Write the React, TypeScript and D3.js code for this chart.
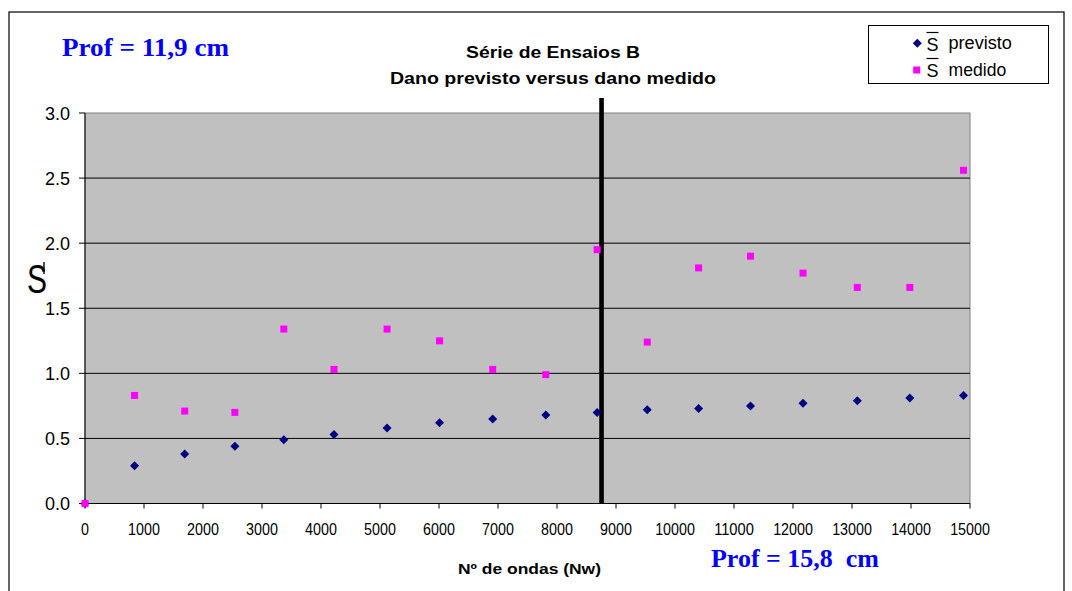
import React from "react";
import * as d3 from "d3";

const waves = [0, 840, 1690, 2540, 3370, 4220, 5120, 6010, 6910, 7810, 8680, 9530, 10400, 11280, 12170, 13090, 13980, 14890];
const sPrevisto = [0, 0.29, 0.38, 0.44, 0.49, 0.53, 0.58, 0.62, 0.65, 0.68, 0.70, 0.72, 0.73, 0.75, 0.77, 0.79, 0.81, 0.83];
const sMedido = [0, 0.83, 0.71, 0.70, 1.34, 1.03, 1.34, 1.25, 1.03, 0.99, 1.95, 1.24, 1.81, 1.90, 1.77, 1.66, 1.66, 2.56];
const xTicks = [0, 1000, 2000, 3000, 4000, 5000, 6000, 7000, 8000, 9000, 10000, 11000, 12000, 13000, 14000, 15000];
const yTicks = [0, 0.5, 1.0, 1.5, 2.0, 2.5, 3.0];
const divider = 8755;
const titleLines = ["Série de Ensaios B", "Dano previsto versus dano medido"];
const xTitle = "Nº de ondas (Nw)";
const profTop = "Prof = 11,9 cm";
const profBottom = "Prof = 15,8  cm";
const legendLabels = ["previsto", "medido"];

export default function App() {
  const x = d3.scaleLinear().domain([0, 15000]).range([85, 970]);
  const y = d3.scaleLinear().domain([0, 3]).range([503.5, 113]);
  const diamond = "M0,-4.5L4.5,0L0,4.5L-4.5,0Z";
  const [x0, x1] = x.range();
  const [yb, yt] = y.range();
  const arial = "Arial, 'Liberation Sans', sans-serif";
  const times = "'Times New Roman', 'Liberation Serif', serif";
  return (
    <svg width={1072} height={591} style={{ position: "absolute", left: 0, top: 0 }} fontFamily={arial}>
      <rect x={0} y={0} width={1072} height={591} fill="#fff" />
      <rect x={9} y={12} width={1055} height={620} fill="#fff" stroke="#000" strokeWidth={1.2} />
      {/* plot area */}
      <rect x={x0} y={yt} width={x1 - x0} height={yb - yt} fill="#C0C0C0" stroke="#808080" strokeWidth={1} />
      {yTicks.filter((t) => t > 0 && t < 3).map((t) => (
        <line key={t} x1={x0} x2={x1} y1={y(t)} y2={y(t)} stroke="#000" strokeWidth={1} />
      ))}
      <line x1={x0} x2={x0} y1={yt} y2={yb} stroke="#000" strokeWidth={1} />
      <line x1={x0} x2={x1} y1={yb} y2={yb} stroke="#000" strokeWidth={1} />
      {yTicks.map((t) => (
        <g key={t}>
          <line x1={x0 - 6} x2={x0} y1={y(t)} y2={y(t)} stroke="#000" />
          <text x={70} y={y(t) + 6.5} textAnchor="end" fontSize={18}>{t.toFixed(1)}</text>
        </g>
      ))}
      {xTicks.map((t) => {
        const label = String(t);
        return (
          <g key={t}>
            <line x1={x(t)} x2={x(t)} y1={yb} y2={yb + 5} stroke="#000" />
            <text x={x(t) - (label.length * 7.95) / 2} y={535} fontSize={16} textLength={label.length * 7.95} lengthAdjust="spacingAndGlyphs">{label}</text>
          </g>
        );
      })}
      {/* divider */}
      <line x1={x(divider)} x2={x(divider)} y1={98} y2={yb} stroke="#000" strokeWidth={4.6} />
      {/* series */}
      {waves.map((w, i) => (
        <path key={"p" + i} d={diamond} transform={`translate(${x(w)},${y(sPrevisto[i])})`} fill="#000080" />
      ))}
      {waves.map((w, i) => (
        <rect key={"m" + i} x={x(w) - 3.5} y={y(sMedido[i]) - 3.5} width={7} height={7} fill="#FF00FF" />
      ))}
      {/* titles */}
      <text x={466} y={58} fontSize={16} fontWeight="bold" textLength={174} lengthAdjust="spacingAndGlyphs">{titleLines[0]}</text>
      <text x={390} y={83.5} fontSize={16} fontWeight="bold" textLength={326} lengthAdjust="spacingAndGlyphs">{titleLines[1]}</text>
      <text x={458} y={574} fontSize={14.5} fontWeight="bold" textLength={143} lengthAdjust="spacingAndGlyphs">{xTitle}</text>
      <text x={62} y={56} fontSize={26} fontWeight="bold" fill="#0000FF" fontFamily={times} textLength={167} lengthAdjust="spacingAndGlyphs">{profTop}</text>
      <text x={711} y={567} fontSize={26} fontWeight="bold" fill="#0000FF" fontFamily={times} textLength={168} lengthAdjust="spacingAndGlyphs" style={{ whiteSpace: "pre" }}>{profBottom}</text>
      {/* y axis title */}
      <text x={27} y={293} fontSize={40} textLength={20} lengthAdjust="spacingAndGlyphs">S</text>
      <line x1={44} x2={44} y1={262} y2={274} stroke="#000" strokeWidth={1.4} />
      {/* legend */}
      <rect x={868.5} y={25.5} width={180} height={58} fill="#fff" stroke="#000" strokeWidth={1} />
      <path d={diamond} transform="translate(917.3,43.3)" fill="#000080" />
      <rect x={913.2} y={66.5} width={7} height={7} fill="#FF00FF" />
      {[0, 1].map((i) => {
        const base = i === 0 ? 50.5 : 76.5;
        return (
          <g key={i}>
            <line x1={926.5} x2={938.5} y1={base - 18} y2={base - 18} stroke="#000" strokeWidth={1.2} />
            <text x={926.5} y={base} fontSize={18} textLength={12} lengthAdjust="spacingAndGlyphs">S</text>
            <text x={948.5} y={i === 0 ? 48.5 : 76} fontSize={17.5} textLength={i === 0 ? 63.4 : 57.7} lengthAdjust="spacingAndGlyphs">{legendLabels[i]}</text>
          </g>
        );
      })}
    </svg>
  );
}
